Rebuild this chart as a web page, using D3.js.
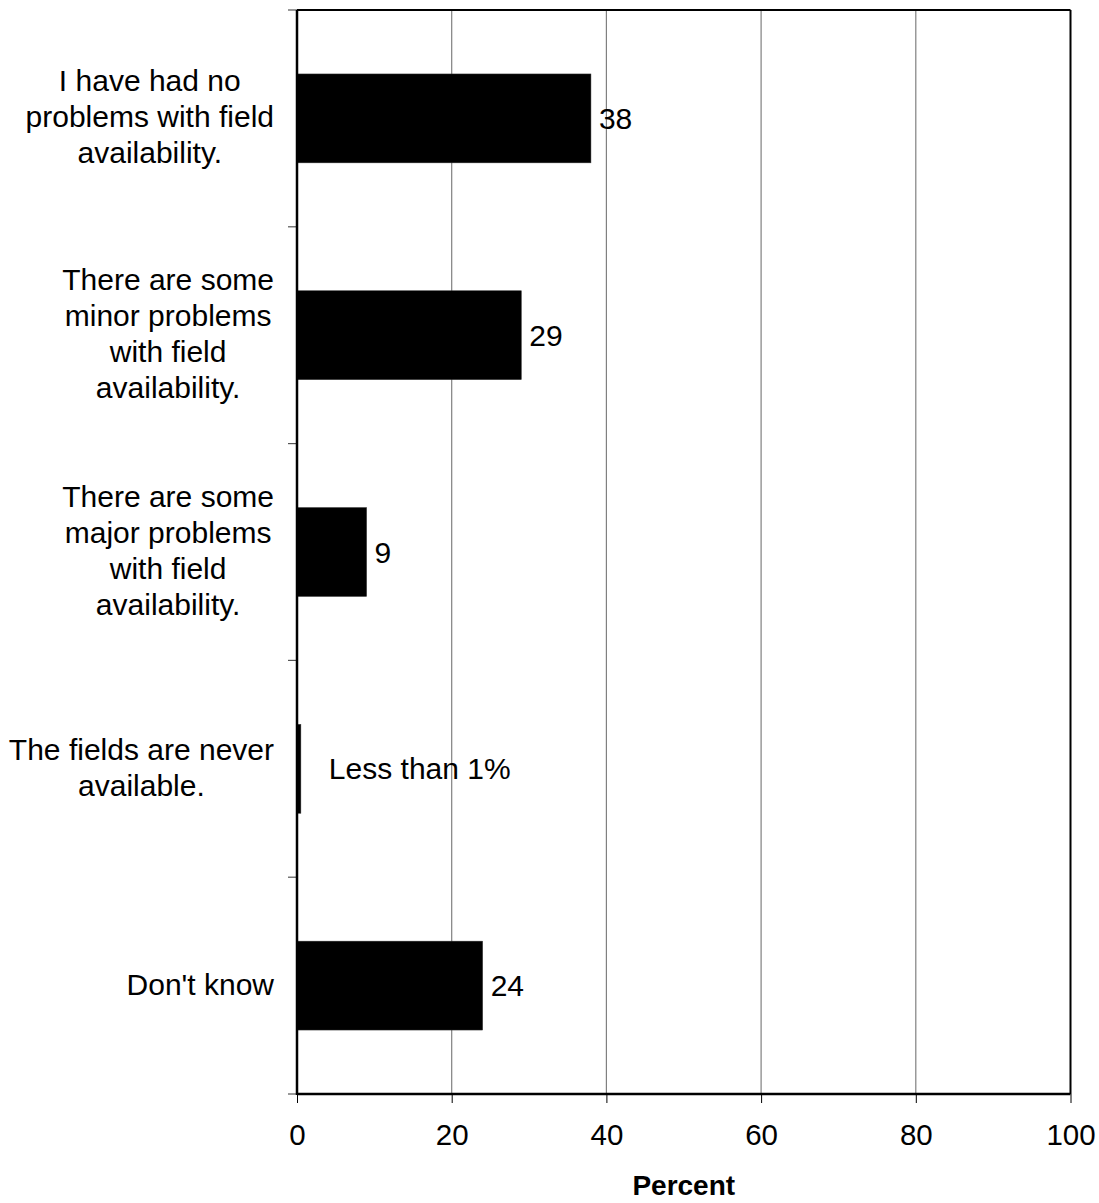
<!DOCTYPE html>
<html>
<head>
<meta charset="utf-8">
<script src="https://cdn.jsdelivr.net/npm/d3@7"></script>
<style>
  html, body { margin: 0; padding: 0; background: #fff; }
  svg { display: block; font-family: "Liberation Sans", Arial, sans-serif; }
</style>
</head>
<body>
<svg id="chart" width="1099" height="1203"></svg>
<script>
const categories = [
  ["I have had no", "problems with field", "availability."],
  ["There are some", "minor problems", "with field", "availability."],
  ["There are some", "major problems", "with field", "availability."],
  ["The fields are never", "available."],
  ["Don't know"]
];
const values = [38, 29, 9, 0.5, 24];
const valueLabels = ["38", "29", "9", "Less than 1%", "24"];
const xTicks = [0, 20, 40, 60, 80, 100];
const xTitle = "Percent";

const svg = d3.select("#chart");
const plotL = 297, plotR = 1070.5, plotT = 10, plotB = 1094;
const fontSize = 30;

const x = d3.scaleLinear().domain([0, 100]).range([plotL, plotR]);
const y = d3.scaleBand().domain(d3.range(categories.length)).range([plotT, plotB])
  .paddingInner(0.59).paddingOuter(0.295);
const step = y.step();

// gridlines
svg.append("g").selectAll("line").data(xTicks.filter(t => t > 0 && t < 100)).join("line")
  .attr("x1", d => x(d)).attr("x2", d => x(d)).attr("y1", plotT).attr("y2", plotB)
  .attr("stroke", "#808080").attr("stroke-width", 1.2);

// bars
svg.append("g").selectAll("rect").data(values).join("rect")
  .attr("x", x(0)).attr("y", (d, i) => y(i))
  .attr("width", d => x(d) - x(0)).attr("height", y.bandwidth())
  .attr("fill", "#000").attr("stroke", "#333").attr("stroke-width", 0.5);

// frame top / right
svg.append("line").attr("x1", plotL).attr("x2", plotR).attr("y1", plotT).attr("y2", plotT)
  .attr("stroke", "#000").attr("stroke-width", 2);
svg.append("line").attr("x1", plotR).attr("x2", plotR).attr("y1", plotT).attr("y2", plotB)
  .attr("stroke", "#000").attr("stroke-width", 2);

// x axis
const xAxis = d3.axisBottom(x).tickValues(xTicks).tickSize(9).tickPadding(21).tickFormat(d3.format("d"));
const gx = svg.append("g").attr("transform", `translate(0,${plotB})`).call(xAxis);
gx.select(".domain").attr("stroke", "#000").attr("stroke-width", 2.5).attr("d", `M${plotL},0H${plotR}`);
gx.selectAll(".tick line").attr("stroke", "#000").attr("stroke-width", 1);
gx.selectAll(".tick text").attr("font-size", fontSize - 0.5).attr("fill", "#000")
  .attr("font-family", "Liberation Sans, Arial, sans-serif");

// y axis with ticks at band boundaries
const boundaries = d3.range(categories.length + 1).map(i => plotT + i * step);
svg.append("g").selectAll("line").data(boundaries).join("line")
  .attr("x1", plotL - 9).attr("x2", plotL).attr("y1", d => d).attr("y2", d => d)
  .attr("stroke", "#555").attr("stroke-width", 1.2);
svg.append("line").attr("x1", plotL).attr("x2", plotL).attr("y1", plotT).attr("y2", plotB + 1)
  .attr("stroke", "#000").attr("stroke-width", 2.5);

// category labels: lines centered within block, block right-aligned
const lineH = 36;
const labelRight = 274;
categories.forEach((lines, i) => {
  const cy = y(i) + y.bandwidth() / 2 - 1.5;
  const g = svg.append("g");
  const texts = lines.map((ln, j) => g.append("text")
    .attr("font-size", fontSize).attr("fill", "#000")
    .attr("text-anchor", "middle").attr("dominant-baseline", "central")
    .attr("y", cy + (j - (lines.length - 1) / 2) * lineH).text(ln));
  const maxW = d3.max(texts, t => t.node().getComputedTextLength());
  texts.forEach(t => t.attr("x", labelRight - maxW / 2));
});

// value labels
svg.append("g").selectAll("text").data(values).join("text")
  .attr("x", (d, i) => i === 3 ? x(d) + 28 : x(d) + 8)
  .attr("y", (d, i) => y(i) + y.bandwidth() / 2)
  .attr("dominant-baseline", "central")
  .attr("font-size", fontSize).attr("fill", "#000")
  .text((d, i) => valueLabels[i]);

// axis title
svg.append("text").attr("x", (plotL + plotR) / 2).attr("y", 1195)
  .attr("text-anchor", "middle")
  .attr("font-size", 28).attr("font-weight", "bold").attr("fill", "#000")
  .text(xTitle);
</script>
</body>
</html>
